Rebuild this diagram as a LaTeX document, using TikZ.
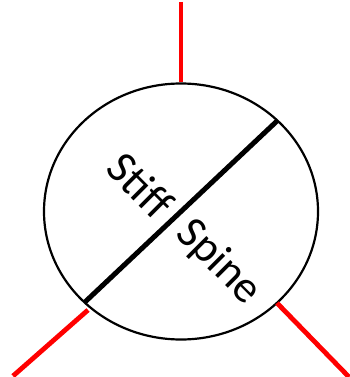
\documentclass[tikz,border=0pt]{standalone}
\usepackage{fontspec}
\setmainfont{Carlito}
\usetikzlibrary{shapes.geometric}
\begin{document}
\begin{tikzpicture}[x=1pt,y=-1pt,
  ring/.style={draw=black,line width=2.2pt,ellipse,minimum width=274pt,minimum height=256pt,inner sep=0pt},
  spine/.style={draw=black,line width=5pt},
  leg/.style={draw=red,line width=4.8pt},
  lbl/.style={font=\fontsize{45}{45}\selectfont,rotate=-45,inner sep=0pt}]
\useasboundingbox (0,0) rectangle (350,377);
\node[ring] (c) at (181,211.5) {};
\coordinate (s1) at (85,302);
\coordinate (s2) at (277,121);
\draw[spine] (s1) -- (s2);
\coordinate (t0) at (181,2);
\coordinate (l0) at (88,310);
\coordinate (l1) at (13,376);
\coordinate (r0) at (277,303);
\coordinate (r1) at (349,377);
\draw[leg] (t0) -- (c.north);
\draw[leg] (l0) -- (l1);
\draw[leg] (r0) -- (r1);
\node[lbl] (stiff) at (140.5,185.5) {Stiff};
\node[lbl] (spn) at (218.5,262.5) {Spine};
\end{tikzpicture}
\end{document}
